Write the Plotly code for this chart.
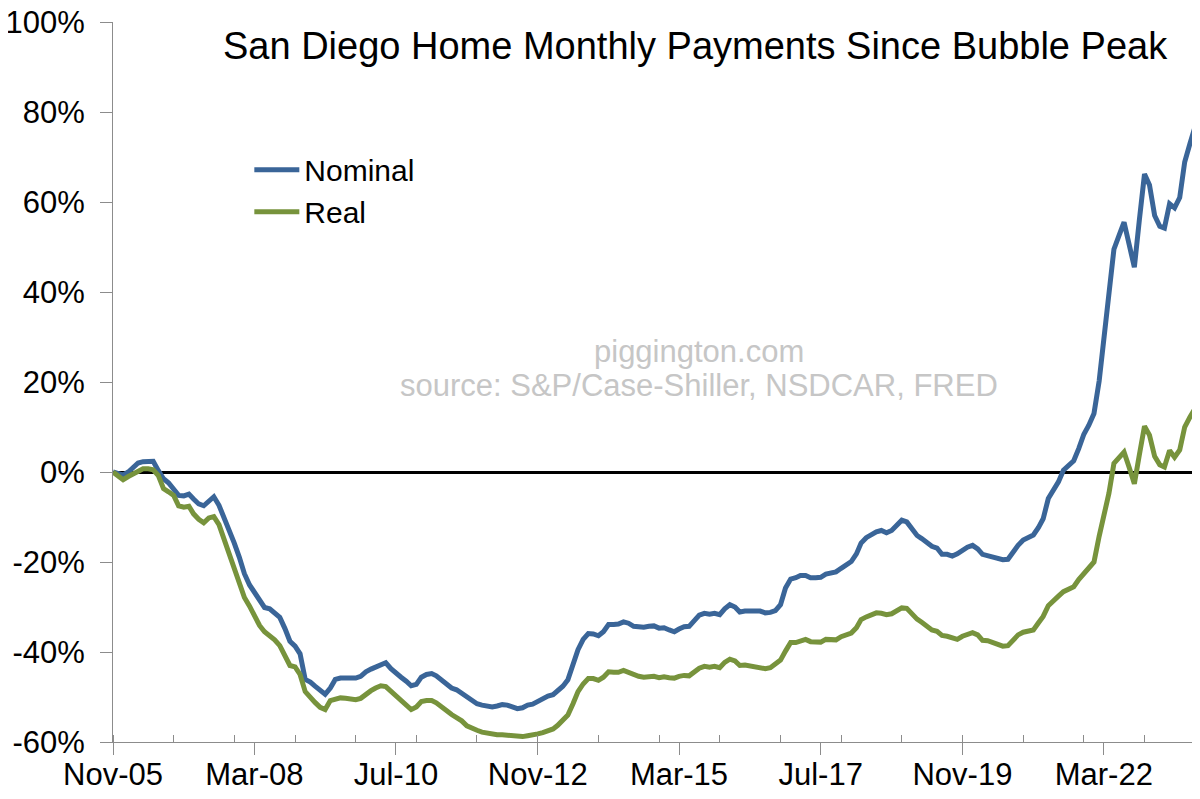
import pandas as pd
import plotly.graph_objects as go

start_month = "2005-11-01"

nominal = [
    0.0, -0.4, -0.7, 0.0, 0.8, 2.0, 2.3, 2.4, 2.4, 0.3,
    -1.5, -2.4, -3.7, -5.2, -5.3, -4.9, -6.0, -7.1, -7.5, -6.3,
    -5.5, -7.4, -10.1, -12.7, -15.8, -18.9, -22.6, -25.1, -26.8, -28.6,
    -30.1, -30.4, -31.2, -32.3, -34.8, -37.6, -38.7, -40.4, -46.1, -46.7,
    -47.6, -48.7, -49.4, -48.0, -46.1, -45.8, -45.8, -45.8, -45.8, -45.4,
    -44.4, -43.8, -43.4, -42.7, -42.4, -43.7, -44.8, -45.6, -46.5, -47.5,
    -47.2, -45.6, -45.0, -44.8, -45.3, -46.1, -47.1, -48.0, -48.4, -49.2,
    -50.2, -51.0, -51.5, -51.8, -52.0, -52.2, -52.0, -51.7, -51.8, -52.2,
    -52.6, -52.4, -51.8, -51.6, -51.0, -50.3, -49.8, -49.5, -48.6, -47.6,
    -46.2, -43.0, -39.5, -37.2, -35.9, -36.0, -36.4, -35.5, -33.9, -33.9,
    -33.8, -33.3, -33.6, -34.3, -34.4, -34.5, -34.3, -34.2, -34.7, -34.6,
    -35.1, -35.5, -34.9, -34.4, -34.3, -32.8, -31.8, -31.4, -31.6, -31.4,
    -31.7, -30.4, -29.5, -30.0, -31.1, -30.9, -30.9, -31.0, -30.9, -31.3,
    -31.2, -30.8, -29.5, -25.8, -23.8, -23.5, -23.0, -23.0, -23.5, -23.5,
    -23.4, -22.7, -22.5, -22.2, -21.4, -20.7, -19.9, -18.2, -15.8, -14.6,
    -13.9, -13.3, -13.0, -13.5, -13.0, -11.9, -10.7, -11.1, -12.8, -14.1,
    -14.8, -15.7, -16.5, -16.9, -18.3, -18.3, -18.7, -18.2, -17.4, -16.7,
    -16.3, -17.1, -18.3, -18.6, -19.0, -19.4, -19.5, -19.4, -17.6, -16.3,
    -15.1, -14.6, -14.0, -12.3, -10.4, -5.9, -4.0, -2.2, 0.4, 1.4,
    2.5, 5.2, 8.4, 10.4, 13.0, 20.2, 29.8, 39.5, 49.5, 52.6,
    55.5, 50.5, 45.5, 56.0, 66.2, 63.8, 57.0, 54.6, 54.2, 59.6,
    58.7, 61.0, 68.9, 72.9, 76.7,
]

real = [
    0.0, -0.8, -1.7, -1.0, -0.4, 0.3, 0.7, 0.7, 0.5, -0.8,
    -3.7, -4.4, -5.2, -7.5, -7.8, -7.6, -9.3, -10.5, -11.3, -10.2,
    -9.9, -11.7, -14.9, -17.9, -21.1, -24.2, -27.9, -29.8, -31.8, -34.1,
    -35.5, -36.3, -37.3, -38.6, -40.8, -43.0, -43.3, -45.0, -48.8, -50.2,
    -51.2, -52.3, -52.8, -50.8, -50.4, -50.2, -50.3, -50.4, -50.6, -50.3,
    -49.3, -48.6, -48.0, -47.5, -47.7, -48.8, -49.9, -50.8, -51.8, -52.8,
    -52.2, -51.0, -50.8, -50.8, -51.3, -52.0, -53.0, -53.9, -54.5, -55.3,
    -56.4, -57.0, -57.4, -57.8, -58.1, -58.4, -58.4, -58.4, -58.5, -58.7,
    -58.9, -58.8, -58.6, -58.5, -58.2, -57.9, -57.4, -57.1, -56.3, -55.3,
    -54.0, -51.5, -48.8, -47.1, -45.9, -45.9, -46.3, -45.6, -44.4, -44.5,
    -44.5, -44.1, -44.5, -45.2, -45.4, -45.6, -45.6, -45.4, -45.7, -45.5,
    -45.7, -45.8, -45.4, -45.2, -45.3, -44.3, -43.6, -43.2, -43.4, -43.2,
    -43.5, -42.3, -41.6, -42.0, -43.0, -42.9, -43.1, -43.3, -43.5, -43.7,
    -43.5, -42.8, -41.8, -39.8, -37.9, -37.9, -37.5, -37.2, -37.7, -37.8,
    -37.8, -37.2, -37.3, -37.3, -36.6, -36.2, -35.8, -34.6, -32.8, -32.2,
    -31.8, -31.3, -31.4, -31.7, -31.5, -31.0, -30.2, -30.3, -31.7, -32.7,
    -33.4, -34.2, -35.1, -35.4, -36.3, -36.5, -36.8, -37.2, -36.5, -36.0,
    -35.7, -36.2, -37.4, -37.5, -37.9, -38.3, -38.7, -38.6, -37.3, -36.2,
    -35.6, -35.4, -35.1, -33.5, -32.1, -29.7, -28.8, -27.6, -26.6, -26.1,
    -25.5, -23.9, -22.6, -21.5, -20.0, -14.3, -9.6, -4.7, 1.9, 3.0,
    4.4, 1.0, -2.6, 3.8, 10.2, 8.2, 3.5, 1.6, 1.1, 4.8,
    3.3, 4.9, 10.0, 12.2, 14.1,
]

y_tick_values = [-60, -40, -20, 0, 20, 40, 60, 80, 100]
y_tick_labels = ["-60%", "-40%", "-20%", "0%", "20%", "40%", "60%", "80%", "100%"]

months = pd.date_range(start_month, periods=len(nominal), freq="MS")

BLUE = "#3a6598"
GREEN = "#77933c"
AXIS_GRAY = "#8c8c8c"
FONT = "Liberation Sans, Arial, sans-serif"

fig = go.Figure()
fig.add_trace(go.Scatter(x=months, y=nominal, mode="lines", name="Nominal",
                         line=dict(color=BLUE, width=5), cliponaxis=False))
fig.add_trace(go.Scatter(x=months, y=real, mode="lines", name="Real",
                         line=dict(color=GREEN, width=5), cliponaxis=False))

# The page body has an 8px default margin, so the figure is sized/offset to compensate.
fig.update_layout(
    width=1192, height=791,
    margin=dict(l=105, r=5, t=14, b=57, autoexpand=False),
    paper_bgcolor="white", plot_bgcolor="white",
    font=dict(family=FONT, size=30, color="black"),
    showlegend=True,
    legend=dict(x=0.126, y=0.831, xanchor="left", yanchor="top",
                font=dict(size=30, color="black"), bgcolor="rgba(0,0,0,0)",
                tracegroupgap=0, itemwidth=45),
    xaxis=dict(
        type="date",
        range=[months[0], months[-1]],
        tick0=start_month, dtick="M28", tickformat="%b-%y",
        ticks="outside", ticklen=12, tickwidth=1, tickcolor=AXIS_GRAY,
        showline=True, linecolor=AXIS_GRAY, linewidth=1,
        showgrid=False, zeroline=False, automargin=False,
        tickfont=dict(size=31, color="black"),
        ticklabelstandoff=-7, ticklabeloverflow="allow",
        minor=dict(dtick="M12", tick0=start_month, ticks="inside", ticklen=7,
                   tickcolor=AXIS_GRAY, showgrid=False),
    ),
    yaxis=dict(
        range=[-60, 100],
        tickvals=y_tick_values, ticktext=y_tick_labels,
        ticks="outside", ticklen=12, tickwidth=1, tickcolor=AXIS_GRAY,
        showline=True, linecolor=AXIS_GRAY, linewidth=1,
        showgrid=False, automargin=False,
        zeroline=True, zerolinecolor="black", zerolinewidth=2.5,
        tickfont=dict(size=31, color="black"),
        ticklabelstandoff=9, ticklabeloverflow="allow",
    ),
    annotations=[
        dict(text="San Diego Home Monthly Payments Since Bubble Peak",
             xref="paper", yref="paper", x=0.538, y=0.966,
             xanchor="center", yanchor="middle", showarrow=False,
             font=dict(size=38, color="black", family=FONT)),
        dict(text="piggington.com",
             xref="paper", yref="paper", x=0.5416, y=0.542,
             xanchor="center", yanchor="middle", showarrow=False,
             font=dict(size=31, color="#c6c6c6", family=FONT)),
        dict(text="source: S&P/Case-Shiller, NSDCAR, FRED",
             xref="paper", yref="paper", x=0.5416, y=0.4948,
             xanchor="center", yanchor="middle", showarrow=False,
             font=dict(size=31, color="#c6c6c6", family=FONT)),
    ],
)

fig.write_html("out.html")
